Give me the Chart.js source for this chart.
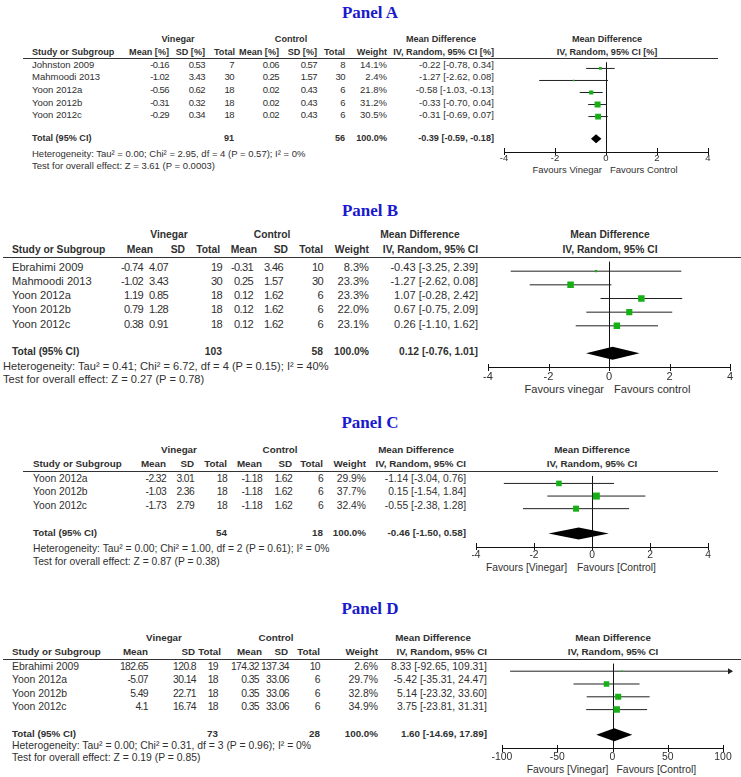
<!DOCTYPE html>
<html><head><meta charset="utf-8">
<script src="https://cdn.jsdelivr.net/npm/chart.js@4.4.1/dist/chart.umd.min.js"></script>
<style>
html,body{margin:0;padding:0;background:#fff;}
#root{position:relative;width:741px;height:777px;overflow:hidden;background:#fff;font-family:"Liberation Sans",Arial,sans-serif;color:#303030;}
.t{position:absolute;white-space:nowrap;line-height:1;}
.hl{position:absolute;height:1px;background:#333;}
canvas{position:absolute;}
.title{position:absolute;font-family:"Liberation Serif","Times New Roman",serif;font-weight:bold;color:#1a1acc;white-space:nowrap;line-height:1;}
</style></head><body><div id="root"></div>
<script>
// ---------------- DATA ----------------
// Panel A
const aStudies = ['Johnston 2009','Mahmoodi 2013','Yoon 2012a','Yoon 2012b','Yoon 2012c'];
const aVinMean = [-0.16,-1.02,-0.56,-0.31,-0.29];
const aVinSD   = [0.53,3.43,0.62,0.32,0.34];
const aVinN    = [7,30,18,18,18];
const aCtlMean = [0.06,0.25,0.02,0.02,0.02];
const aCtlSD   = [0.57,1.57,0.43,0.43,0.43];
const aCtlN    = [8,30,6,6,6];
const aWeight  = [14.1,2.4,21.8,31.2,30.5];
const aMD      = [-0.22,-1.27,-0.58,-0.33,-0.31];
const aLo      = [-0.78,-2.62,-1.03,-0.70,-0.69];
const aHi      = [0.34,0.08,-0.13,0.04,0.07];
const aTotals  = [91,56];
const aPooled  = [-0.39,-0.59,-0.18];
const aTicks   = [-4,-2,0,2,4];
const aColHeads = ['Mean [%]','SD [%]','Total'];
const aCIHead  = 'IV, Random, 95% CI [%]';
const aHet     = 'Heterogeneity: Tau\u00B2 = 0.00; Chi\u00B2 = 2.95, df = 4 (P = 0.57); I\u00B2 = 0%';
const aTest    = 'Test for overall effect: Z = 3.61 (P = 0.0003)';
const aFavours = ['Favours Vinegar','Favours Control'];

// Panel B
const bStudies = ['Ebrahimi 2009','Mahmoodi 2013','Yoon 2012a','Yoon 2012b','Yoon 2012c'];
const bVinMean = [-0.74,-1.02,1.19,0.79,0.38];
const bVinSD   = [4.07,3.43,0.85,1.28,0.91];
const bVinN    = [19,30,18,18,18];
const bCtlMean = [-0.31,0.25,0.12,0.12,0.12];
const bCtlSD   = [3.46,1.57,1.62,1.62,1.62];
const bCtlN    = [10,30,6,6,6];
const bWeight  = [8.3,23.3,23.3,22.0,23.1];
const bMD      = [-0.43,-1.27,1.07,0.67,0.26];
const bLo      = [-3.25,-2.62,-0.28,-0.75,-1.10];
const bHi      = [2.39,0.08,2.42,2.09,1.62];
const bTotals  = [103,58];
const bPooled  = [0.12,-0.76,1.01];
const bTicks   = [-4,-2,0,2,4];
const bColHeads = ['Mean','SD','Total'];
const bCIHead  = 'IV, Random, 95% CI';
const bHet     = 'Heterogeneity: Tau\u00B2 = 0.41; Chi\u00B2 = 6.72, df = 4 (P = 0.15); I\u00B2 = 40%';
const bTest    = 'Test for overall effect: Z = 0.27 (P = 0.78)';
const bFavours = ['Favours vinegar','Favours control'];

// Panel C
const cStudies = ['Yoon 2012a','Yoon 2012b','Yoon 2012c'];
const cVinMean = [-2.32,-1.03,-1.73];
const cVinSD   = [3.01,2.36,2.79];
const cVinN    = [18,18,18];
const cCtlMean = [-1.18,-1.18,-1.18];
const cCtlSD   = [1.62,1.62,1.62];
const cCtlN    = [6,6,6];
const cWeight  = [29.9,37.7,32.4];
const cMD      = [-1.14,0.15,-0.55];
const cLo      = [-3.04,-1.54,-2.38];
const cHi      = [0.76,1.84,1.28];
const cTotals  = [54,18];
const cPooled  = [-0.46,-1.50,0.58];
const cTicks   = [-4,-2,0,2,4];
const cColHeads = ['Mean','SD','Total'];
const cCIHead  = 'IV, Random, 95% CI';
const cHet     = 'Heterogeneity: Tau\u00B2 = 0.00; Chi\u00B2 = 1.00, df = 2 (P = 0.61); I\u00B2 = 0%';
const cTest    = 'Test for overall effect: Z = 0.87 (P = 0.38)';
const cFavours = ['Favours [Vinegar]','Favours [Control]'];

// Panel D
const dStudies = ['Ebrahimi 2009','Yoon 2012a','Yoon 2012b','Yoon 2012c'];
const dVinMean = [182.65,-5.07,5.49,4.1];
const dVinSD   = [120.8,30.14,22.71,16.74];
const dVinN    = [19,18,18,18];
const dCtlMean = [174.32,0.35,0.35,0.35];
const dCtlSD   = [137.34,33.06,33.06,33.06];
const dCtlN    = [10,6,6,6];
const dWeight  = [2.6,29.7,32.8,34.9];
const dMD      = [8.33,-5.42,5.14,3.75];
const dLo      = [-92.65,-35.31,-23.32,-23.81];
const dHi      = [109.31,24.47,33.60,31.31];
const dTotals  = [73,28];
const dPooled  = [1.60,-14.69,17.89];
const dTicks   = [-100,-50,0,50,100];
const dColHeads = ['Mean','SD','Total'];
const dCIHead  = 'IV, Random, 95% CI';
const dHet     = 'Heterogeneity: Tau\u00B2 = 0.00; Chi\u00B2 = 0.31, df = 3 (P = 0.96); I\u00B2 = 0%';
const dTest    = 'Test for overall effect: Z = 0.19 (P = 0.85)';
const dFavours = ['Favours [Vinegar]','Favours [Control]'];

// ---------------- LAYOUT (positions / sizes only) ----------------
const LAY = {
  A:{title:12, h1:39, h2:52, line:58, lineL:23, lineR:718, row0:64.5, step:12.6, total:138, het:154, test:165.5, axis:152, fav:170,
     plotL:504, plotR:708, font:9.5, hfont:9.1, studyX:32, cols:[169,205,234,279,317,345,387], hcols:[169,205,235,279,317,345,387],
     vinC:178, ctlC:291, mdHeadC:441, ciR:494, plotHeadC:607, hetX:32, favGap:4, favShift:0, tickPad:1, maxSide:6, diamondH:4.5},
  B:{title:210, h1:235, h2:250, line:257, lineL:3, lineR:741, row0:267, step:14.25, total:352.5, het:366, test:379.5, axis:368, fav:389,
     plotL:488, plotR:730, font:11.1, hfont:10.3, studyX:12, cols:[143,168,222,253,283,323,369], hcols:[153,185,220,257,288,323,369],
     vinC:169, ctlC:272, mdHeadC:420, ciR:478, plotHeadC:610, hetX:3, favGap:5, favShift:0, tickPad:2.4, maxSide:6.5, diamondH:6.5},
  C:{title:422, h1:450, h2:464, line:471, lineL:23, lineR:718, row0:479, step:13.5, total:532.5, het:549, test:562, axis:547, fav:568,
     plotL:476, plotR:708, font:10.3, hfont:9.8, studyX:33, cols:[166,194,227,262,292,323,366], hcols:[166,194,227,262,292,323,366],
     vinC:179, ctlC:280, mdHeadC:416, ciR:466, plotHeadC:592, hetX:33, favGap:5, favShift:-20, tickPad:1.7, maxSide:7, diamondH:6},
  D:{title:608, h1:638, h2:652, line:659, lineL:3, lineR:741, row0:667, step:13.5, total:734, het:746, test:758, axis:749, fav:770,
     plotL:502, plotR:723, font:10.4, hfont:9.8, studyX:12, cols:[148,196,218,259,289,320,378], hcols:[148,195,221,262,288,320,378],
     vinC:164, ctlC:276, mdHeadC:433, ciR:487, plotHeadC:613, hetX:12, favGap:4, favShift:0, tickPad:1.7, maxSide:6.5, diamondH:6.5}
};

const PANELS = [
  {key:'A', title:'Panel A', studies:aStudies, vinMean:aVinMean, vinSD:aVinSD, vinN:aVinN, ctlMean:aCtlMean, ctlSD:aCtlSD, ctlN:aCtlN,
   weight:aWeight, md:aMD, lo:aLo, hi:aHi, totals:aTotals, pooled:aPooled, ticks:aTicks, colHeads:aColHeads, ciHead:aCIHead, het:aHet, test:aTest, favours:aFavours},
  {key:'B', title:'Panel B', studies:bStudies, vinMean:bVinMean, vinSD:bVinSD, vinN:bVinN, ctlMean:bCtlMean, ctlSD:bCtlSD, ctlN:bCtlN,
   weight:bWeight, md:bMD, lo:bLo, hi:bHi, totals:bTotals, pooled:bPooled, ticks:bTicks, colHeads:bColHeads, ciHead:bCIHead, het:bHet, test:bTest, favours:bFavours},
  {key:'C', title:'Panel C', studies:cStudies, vinMean:cVinMean, vinSD:cVinSD, vinN:cVinN, ctlMean:cCtlMean, ctlSD:cCtlSD, ctlN:cCtlN,
   weight:cWeight, md:cMD, lo:cLo, hi:cHi, totals:cTotals, pooled:cPooled, ticks:cTicks, colHeads:cColHeads, ciHead:cCIHead, het:cHet, test:cTest, favours:cFavours},
  {key:'D', title:'Panel D', studies:dStudies, vinMean:dVinMean, vinSD:dVinSD, vinN:dVinN, ctlMean:dCtlMean, ctlSD:dCtlSD, ctlN:dCtlN,
   weight:dWeight, md:dMD, lo:dLo, hi:dHi, totals:dTotals, pooled:dPooled, ticks:dTicks, colHeads:dColHeads, ciHead:dCIHead, het:dHet, test:dTest, favours:dFavours}
];

// ---------------- RENDER ----------------
const FONT = '"Liberation Sans", Arial, sans-serif';
Chart.defaults.font.family = FONT;
const root = document.getElementById('root');
const GREEN = '#16b016';

function txt(str, x, y, size, align, bold, num) {
  const d = document.createElement('div');
  d.className = 't';
  d.textContent = str;
  d.style.fontSize = size + 'px';
  d.style.top = (y - 0.49 * size) + 'px';
  if (bold) d.style.fontWeight = 'bold';
  if (num) d.style.letterSpacing = '-0.06em';
  if (align === 'right') { d.style.right = (741 - x) + 'px'; }
  else if (align === 'center') { d.style.left = x + 'px'; d.style.transform = 'translateX(-50%)'; }
  else { d.style.left = x + 'px'; }
  root.appendChild(d);
  return d;
}
const f2 = v => v.toFixed(2);
const ciText = (m, l, h) => f2(m) + ' [' + f2(l) + ', ' + f2(h) + ']';

const forestPlugin = {
  id: 'forest',
  beforeDatasetsDraw(chart, args, o) {
    const {ctx, chartArea, scales:{x}} = chart;
    ctx.save();
    ctx.strokeStyle = '#111'; ctx.lineWidth = 1;
    const x0 = Math.round(x.getPixelForValue(0)) + 0.5;
    ctx.beginPath(); ctx.moveTo(x0, chartArea.top); ctx.lineTo(x0, chartArea.bottom); ctx.stroke();
    ctx.beginPath();
    o.ticks.forEach(t => {
      const px = Math.round(x.getPixelForValue(t)) + 0.5;
      ctx.moveTo(px, chartArea.bottom - 4); ctx.lineTo(px, chartArea.bottom + 3);
    });
    ctx.stroke();
    ctx.restore();
  },
  afterDatasetsDraw(chart, args, o) {
    const {ctx, scales:{x, y}} = chart;
    ctx.save();
    const yc = y.getPixelForValue(o.totalRow);
    const pl = x.getPixelForValue(o.pooled[1]), pm = x.getPixelForValue(o.pooled[0]), ph = x.getPixelForValue(o.pooled[2]);
    ctx.fillStyle = '#000';
    ctx.beginPath();
    ctx.moveTo(pl, yc); ctx.lineTo(pm, yc - o.dh); ctx.lineTo(ph, yc); ctx.lineTo(pm, yc + o.dh); ctx.closePath();
    ctx.fill();
    ctx.fillStyle = '#222';
    o.hi.forEach((h, i) => {
      if (h > x.max) {
        const tip = x.getPixelForValue(x.max) + o.arrowExt;
        const yy = y.getPixelForValue(i);
        ctx.beginPath(); ctx.moveTo(tip + 1, yy); ctx.lineTo(tip - 4, yy - 3); ctx.lineTo(tip - 4, yy + 3); ctx.closePath(); ctx.fill();
      }
    });
    ctx.restore();
  }
};

PANELS.forEach(P => {
  const L = LAY[P.key];
  const n = P.studies.length;
  const t = document.createElement('div');
  t.className = 'title'; t.textContent = P.title; t.style.fontSize = '17px';
  t.style.left = '370px'; t.style.top = (L.title - 8) + 'px'; t.style.transform = 'translateX(-50%)';
  root.appendChild(t);
  txt('Vinegar', L.vinC, L.h1, L.hfont, 'center', true);
  txt('Control', L.ctlC, L.h1, L.hfont, 'center', true);
  txt('Mean Difference', L.mdHeadC, L.h1, L.hfont, 'center', true);
  txt('Mean Difference', L.plotHeadC, L.h1, L.hfont, 'center', true);
  txt('Study or Subgroup', L.studyX, L.h2, L.hfont, 'left', true);
  const heads = P.colHeads.concat(P.colHeads).concat(['Weight']);
  heads.forEach((h, j) => txt(h, L.hcols[j], L.h2, L.hfont, 'right', true));
  txt(P.ciHead, L.ciR, L.h2, L.hfont, 'right', true);
  txt(P.ciHead, L.plotHeadC, L.h2, L.hfont, 'center', true);
  const hl = document.createElement('div'); hl.className = 'hl';
  hl.style.left = L.lineL + 'px'; hl.style.width = (L.lineR - L.lineL) + 'px'; hl.style.top = L.line + 'px';
  root.appendChild(hl);
  for (let i = 0; i < n; i++) {
    const y = L.row0 + i * L.step;
    txt(P.studies[i], L.studyX, y, L.font, 'left', false);
    const vals = [P.vinMean[i], P.vinSD[i], P.vinN[i], P.ctlMean[i], P.ctlSD[i], P.ctlN[i]];
    vals.forEach((v, j) => txt(String(v), L.cols[j], y, L.font, 'right', false, true));
    txt(P.weight[i].toFixed(1) + '%', L.cols[6], y, L.font, 'right', false);
    txt(ciText(P.md[i], P.lo[i], P.hi[i]), L.ciR, y, L.font, 'right', false);
  }
  txt('Total (95% CI)', L.studyX, L.total, L.hfont, 'left', true);
  txt(String(P.totals[0]), L.cols[2], L.total, L.hfont, 'right', true);
  txt(String(P.totals[1]), L.cols[5], L.total, L.hfont, 'right', true);
  txt('100.0%', L.cols[6], L.total, L.hfont, 'right', true);
  txt(ciText(P.pooled[0], P.pooled[1], P.pooled[2]), L.ciR, L.total, L.hfont, 'right', true);
  txt(P.het, L.hetX, L.het, L.font, 'left', false);
  txt(P.test, L.hetX, L.test, L.font, 'left', false);

  const xmin = P.ticks[0], xmax = P.ticks[P.ticks.length - 1];
  const zeroPx = L.plotL + (0 - xmin) / (xmax - xmin) * (L.plotR - L.plotL) + L.favShift;
  txt(P.favours[0], zeroPx - L.favGap, L.fav, L.font, 'right', false);
  txt(P.favours[1], zeroPx + L.favGap, L.fav, L.font, 'left', false);

  const pad = 22, axisH = 24;
  const cv = document.createElement('canvas');
  const W = (L.plotR - L.plotL) + 2 * pad, H = (L.axis - L.line) + axisH;
  cv.width = W; cv.height = H;
  cv.style.left = (L.plotL - pad) + 'px'; cv.style.top = L.line + 'px';
  cv.style.width = W + 'px'; cv.style.height = H + 'px';
  root.appendChild(cv);

  const yMin = (L.line - L.row0) / L.step;
  const yMax = (L.axis - L.row0) / L.step;
  const totalRow = (L.total - L.row0) / L.step;
  const wmax = Math.max.apply(null, P.weight);
  const sides = P.weight.map(w => Math.max(1.6, L.maxSide * w / wmax));

  const datasets = [{
    label: 'studies',
    data: P.md.map((m, i) => ({x: m, y: i})),
    showLine: false,
    pointStyle: 'rect',
    pointRadius: sides.map(s => s / Math.SQRT2),
    pointBackgroundColor: GREEN,
    pointBorderWidth: 0,
    order: 0
  }];
  P.lo.forEach((l, i) => {
    datasets.push({
      label: 'ci' + i,
      data: [{x: l, y: i}, {x: P.hi[i], y: i}],
      showLine: true,
      borderColor: '#222',
      borderWidth: 1,
      pointRadius: 0,
      order: 1,
      clip: {left: 2, right: 9, top: 2, bottom: 2}
    });
  });

  new Chart(cv, {
    type: 'scatter',
    data: {datasets},
    options: {
      responsive: false, animation: false, events: [],
      devicePixelRatio: 1,
      layout: {padding: {left: pad, right: pad, top: 0, bottom: 0}},
      plugins: {
        legend: {display: false}, tooltip: {enabled: false},
        forest: {ticks: P.ticks, pooled: P.pooled, totalRow, dh: L.diamondH, hi: P.hi, arrowExt: 9}
      },
      scales: {
        x: {
          type: 'linear', position: 'bottom', min: xmin, max: xmax,
          afterFit: s => { s.height = axisH; },
          afterBuildTicks: s => { s.ticks = P.ticks.map(v => ({value: v})); },
          grid: {display: true, drawOnChartArea: false, drawTicks: false},
          border: {display: true, color: '#111', width: 1},
          ticks: {font: {size: L.font, family: FONT}, color: '#303030', padding: L.tickPad, maxRotation: 0, autoSkip: false, callback: v => String(v)}
        },
        y: {type: 'linear', display: false, min: yMin, max: yMax, reverse: true}
      }
    },
    plugins: [forestPlugin]
  });
});
</script></body></html>
